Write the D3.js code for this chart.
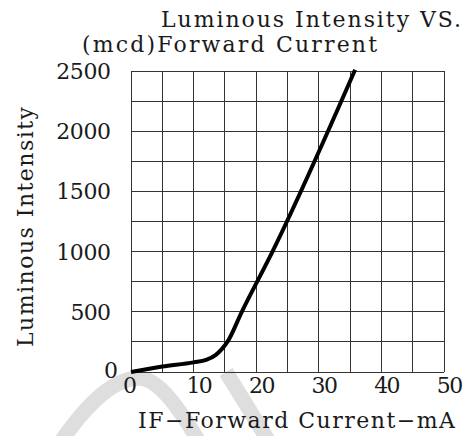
<!DOCTYPE html>
<html>
<head>
<meta charset="utf-8">
<script src="https://cdn.jsdelivr.net/npm/d3@7"></script>
<style>
  body { margin: 0; background: #fff; }
  text { font-family: "DejaVu Serif", "Liberation Serif", serif; fill: #1a1a1a; }
</style>
</head>
<body>
<div class="canvas"></div>
<script>
// curve
const current   = [0, 5, 10, 12, 13.5, 14.5, 15.4, 17.7, 22.6, 35.8];
const intensity = [0, 45, 80, 100, 140, 190, 250, 500, 1000, 2510];

const xTicks = [0, 10, 20, 30, 40, 50];
const yTicks = [0, 500, 1000, 1500, 2000, 2500];
const gridX = d3.range(0, 51, 5);
const gridY = d3.range(0, 2501, 250);

const dims = { width: 473, height: 436 };
const box = { left: 131, right: 444, top: 71, bottom: 372 };

const svg = d3.select('.canvas')
    .append('svg')
    .attr('width', dims.width)
    .attr('height', dims.height);

const x = d3.scaleLinear().domain([0, 50]).range([box.left, box.right]);
const y = d3.scaleLinear().domain([0, 2500]).range([box.bottom, box.top]);

// faint watermark behind the chart
const mark = svg.append('g')
    .attr('fill', 'none')
    .attr('stroke', '#dedede')
    .attr('stroke-width', 15);
mark.append('path').attr('d', 'M62,440 C90,400 115,378 140,378 C160,380 180,410 198,440');
mark.append('path').attr('d', 'M226,372 L268,440');

// grid
const grid = svg.append('g')
    .attr('stroke', '#333')
    .attr('stroke-width', 1)
    .attr('shape-rendering', 'crispEdges');

grid.selectAll('.gx')
    .data(gridX)
    .enter().append('line')
    .attr('x1', d => x(d)).attr('x2', d => x(d))
    .attr('y1', box.top).attr('y2', box.bottom);

grid.selectAll('.gy')
    .data(gridY)
    .enter().append('line')
    .attr('x1', box.left).attr('x2', box.right)
    .attr('y1', d => y(d)).attr('y2', d => y(d));

// curve
const line = d3.line()
    .x(d => x(d[0]))
    .y(d => y(d[1]))
    .curve(d3.curveMonotoneX);

svg.append('path')
    .datum(current.map((c, i) => [c, intensity[i]]))
    .attr('fill', 'none')
    .attr('stroke', '#000')
    .attr('stroke-width', 4)
    .attr('d', line);

// tick labels
const fs = 22;
const charW = 14.2;

svg.selectAll('.ytl')
    .data(yTicks)
    .enter().append('text')
    .attr('font-size', fs)
    .attr('text-anchor', 'end')
    .attr('x', d => d === 0 ? box.left - 13 : box.left - 20)
    .attr('y', d => d === 0 ? y(d) + 6 : y(d) + 8)
    .attr('textLength', d => String(d).length * charW - 2)
    .attr('lengthAdjust', 'spacing')
    .text(d => d);

svg.selectAll('.xtl')
    .data(xTicks)
    .enter().append('text')
    .attr('font-size', fs)
    .attr('text-anchor', 'middle')
    .attr('x', d => x(d) + (d === 0 ? -1 : 6))
    .attr('y', 393)
    .attr('textLength', d => String(d).length * charW - 2)
    .attr('lengthAdjust', 'spacing')
    .text(d => d);

// titles
svg.append('text')
    .attr('font-size', fs)
    .attr('x', 161).attr('y', 27)
    .attr('textLength', 300)
    .attr('lengthAdjust', 'spacing')
    .text('Luminous Intensity VS.');

svg.append('text')
    .attr('font-size', fs)
    .attr('x', 82).attr('y', 52)
    .attr('textLength', 295)
    .attr('lengthAdjust', 'spacing')
    .text('(mcd)Forward Current');

svg.append('text')
    .attr('font-size', fs)
    .attr('x', 138).attr('y', 428)
    .attr('textLength', 317)
    .attr('lengthAdjust', 'spacing')
    .text('IF\u2212Forward Current\u2212mA');

svg.append('text')
    .attr('font-size', fs)
    .attr('text-anchor', 'middle')
    .attr('transform', 'translate(33,227) rotate(-90)')
    .attr('textLength', 240)
    .attr('lengthAdjust', 'spacing')
    .text('Luminous Intensity');
</script>
</body>
</html>
